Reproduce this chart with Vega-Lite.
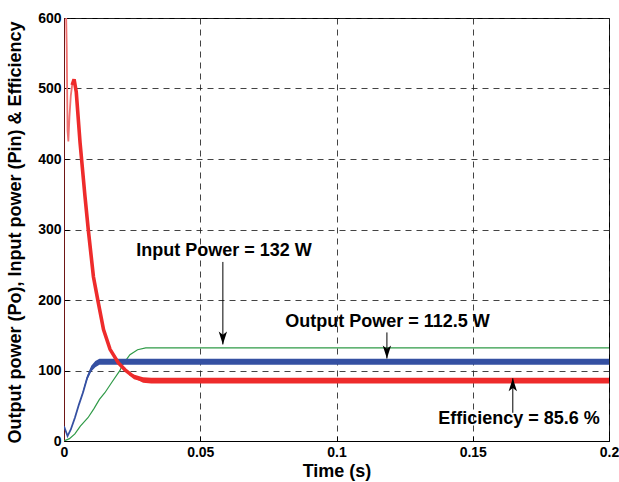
{
  "$schema": "https://vega.github.io/schema/vega-lite/v6.json",
  "autosize": "none",
  "width": 545,
  "height": 423,
  "padding": {"left": 64, "top": 18, "right": 10, "bottom": 41},
  "background": "white",
  "config": {
    "view": {"stroke": "black", "strokeWidth": 1},
    "font": "Liberation Sans",
    "axis": {
      "labelFont": "Liberation Sans",
      "labelFontWeight": "bold",
      "labelFontSize": 14,
      "labelColor": "black",
      "titleFont": "Liberation Sans",
      "titleFontWeight": "bold",
      "titleFontSize": 18,
      "titleColor": "black",
      "grid": true,
      "gridColor": "#222222",
      "gridDash": [6, 5],
      "gridWidth": 1,
      "gridOpacity": 0.85,
      "domainColor": "black",
      "tickColor": "black",
      "tickSize": -5
    }
  },
  "datasets": {
    "curves": [
      {"series": "spike", "t": 0.0, "v": 650},
      {"series": "spike", "t": 0.0006, "v": 640},
      {"series": "spike", "t": 0.0010, "v": 560},
      {"series": "spike", "t": 0.0013, "v": 440},
      {"series": "spike", "t": 0.0016, "v": 425},
      {"series": "spike", "t": 0.0020, "v": 460},
      {"series": "spike", "t": 0.0025, "v": 490},
      {"series": "spike", "t": 0.0030, "v": 505},
      {"series": "spike", "t": 0.0037, "v": 513},

      {"series": "efficiency", "t": 0.0030, "v": 505},
      {"series": "efficiency", "t": 0.0037, "v": 513},
      {"series": "efficiency", "t": 0.0045, "v": 495},
      {"series": "efficiency", "t": 0.0059, "v": 423},
      {"series": "efficiency", "t": 0.0077, "v": 347},
      {"series": "efficiency", "t": 0.0089, "v": 300},
      {"series": "efficiency", "t": 0.0108, "v": 233},
      {"series": "efficiency", "t": 0.0126, "v": 196},
      {"series": "efficiency", "t": 0.0145, "v": 158},
      {"series": "efficiency", "t": 0.0169, "v": 130},
      {"series": "efficiency", "t": 0.0199, "v": 111},
      {"series": "efficiency", "t": 0.0224, "v": 101},
      {"series": "efficiency", "t": 0.0260, "v": 90},
      {"series": "efficiency", "t": 0.0290, "v": 86.5},
      {"series": "efficiency", "t": 0.0320, "v": 85.6},
      {"series": "efficiency", "t": 0.2000, "v": 85.6},

      {"series": "input", "t": 0.0, "v": 0},
      {"series": "input", "t": 0.002, "v": 3.3},
      {"series": "input", "t": 0.004, "v": 10},
      {"series": "input", "t": 0.006, "v": 21},
      {"series": "input", "t": 0.0088, "v": 33},
      {"series": "input", "t": 0.011, "v": 46},
      {"series": "input", "t": 0.013, "v": 59},
      {"series": "input", "t": 0.015, "v": 68.5},
      {"series": "input", "t": 0.0175, "v": 83},
      {"series": "input", "t": 0.0206, "v": 100.5},
      {"series": "input", "t": 0.0213, "v": 107},
      {"series": "input", "t": 0.0242, "v": 122.5},
      {"series": "input", "t": 0.027, "v": 129.5},
      {"series": "input", "t": 0.030, "v": 132},
      {"series": "input", "t": 0.200, "v": 132},

      {"series": "output", "t": 0.0, "v": 21},
      {"series": "output", "t": 0.0013, "v": 7},
      {"series": "output", "t": 0.0025, "v": 16.4},
      {"series": "output", "t": 0.004, "v": 33},
      {"series": "output", "t": 0.0055, "v": 52},
      {"series": "output", "t": 0.007, "v": 69},
      {"series": "output", "t": 0.0085, "v": 89.5},
      {"series": "output", "t": 0.010, "v": 102.6},
      {"series": "output", "t": 0.0115, "v": 109},
      {"series": "output", "t": 0.013, "v": 112.5},
      {"series": "output", "t": 0.200, "v": 112.5}
    ],
    "ripple": [
      {"series": "output", "t": 0.006, "lo": 57, "hi": 58},
      {"series": "output", "t": 0.0085, "lo": 86.5, "hi": 92.5},
      {"series": "output", "t": 0.010, "lo": 98.6, "hi": 106.6},
      {"series": "output", "t": 0.0115, "lo": 104.7, "hi": 113.3},
      {"series": "output", "t": 0.013, "lo": 108.2, "hi": 116.8},
      {"series": "output", "t": 0.200, "lo": 108.2, "hi": 116.8},
      {"series": "efficiency", "t": 0.024, "lo": 93, "hi": 96},
      {"series": "efficiency", "t": 0.029, "lo": 82.5, "hi": 90.5},
      {"series": "efficiency", "t": 0.032, "lo": 81.6, "hi": 89.6},
      {"series": "efficiency", "t": 0.200, "lo": 81.6, "hi": 89.6}
    ],
    "arrows": [
      {"label": "Input Power = 132 W", "t": 0.0583, "from": 254, "tip": 137, "dir": "down"},
      {"label": "Output Power = 112.5 W", "t": 0.1185, "from": 154, "tip": 117, "dir": "down"},
      {"label": "Efficiency = 85.6 %", "t": 0.1647, "from": 40, "tip": 89, "dir": "up"}
    ],
    "notes": [
      {"label": "Input Power = 132 W", "t": 0.0587, "v": 270},
      {"label": "Output Power = 112.5 W", "t": 0.1187, "v": 169.5},
      {"label": "Efficiency = 85.6 %", "t": 0.1670, "v": 30.5}
    ]
  },
  "layer": [
    {
      "data": {"name": "curves"},
      "transform": [{"filter": "datum.series === 'input'"}],
      "mark": {"type": "line", "color": "#2f9a47", "strokeWidth": 1.2, "clip": true},
      "encoding": {
        "x": {
          "field": "t", "type": "quantitative",
          "scale": {"domain": [0, 0.2], "nice": false},
          "axis": {"values": [0, 0.05, 0.1, 0.15, 0.2], "format": "~g", "title": "Time (s)", "labelPadding": 9, "titlePadding": 3, "labelFlush": false}
        },
        "y": {
          "field": "v", "type": "quantitative",
          "scale": {"domain": [0, 600], "nice": false},
          "axis": {"values": [0, 100, 200, 300, 400, 500, 600], "title": "Output power (Po), Input power (Pin) & Efficiency", "labelPadding": 8, "domainColor": "#6e1616", "titleX": -49, "titleY": 214, "titleAngle": -90, "titleAlign": "center", "titleBaseline": "middle"}
        },
        "order": {"field": "t"}
      }
    },
    {
      "data": {"name": "ripple"},
      "transform": [{"filter": "datum.series === 'output'"}],
      "mark": {"type": "area", "color": "#3550a2", "opacity": 1, "clip": true},
      "encoding": {
        "x": {"field": "t", "type": "quantitative"},
        "y": {"field": "lo", "type": "quantitative"},
        "y2": {"field": "hi"}
      }
    },
    {
      "data": {"name": "curves"},
      "transform": [{"filter": "datum.series === 'output'"}],
      "mark": {"type": "line", "color": "#3550a2", "strokeWidth": 1.8, "clip": true},
      "encoding": {
        "x": {"field": "t", "type": "quantitative"},
        "y": {"field": "v", "type": "quantitative"},
        "order": {"field": "t"}
      }
    },
    {
      "data": {"name": "curves"},
      "transform": [{"filter": "datum.series === 'spike'"}],
      "mark": {"type": "line", "color": "#f07070", "strokeWidth": 1.8, "clip": true},
      "encoding": {
        "x": {"field": "t", "type": "quantitative"},
        "y": {"field": "v", "type": "quantitative"},
        "order": {"field": "t"}
      }
    },
    {
      "data": {"name": "ripple"},
      "transform": [{"filter": "datum.series === 'efficiency'"}],
      "mark": {"type": "area", "color": "#ee2b2b", "clip": true},
      "encoding": {
        "x": {"field": "t", "type": "quantitative"},
        "y": {"field": "lo", "type": "quantitative"},
        "y2": {"field": "hi"}
      }
    },
    {
      "data": {"name": "curves"},
      "transform": [{"filter": "datum.series === 'efficiency'"}],
      "mark": {"type": "line", "color": "#ee2b2b", "strokeWidth": 3.6, "clip": true},
      "encoding": {
        "x": {"field": "t", "type": "quantitative"},
        "y": {"field": "v", "type": "quantitative"},
        "order": {"field": "t"}
      }
    },
    {
      "data": {"name": "arrows"},
      "mark": {"type": "rule", "color": "black", "strokeWidth": 1},
      "encoding": {
        "x": {"field": "t", "type": "quantitative"},
        "y": {"field": "from", "type": "quantitative"},
        "y2": {"field": "tip"}
      }
    },
    {
      "data": {"name": "arrows"},
      "mark": {"type": "point", "filled": true, "color": "black", "opacity": 1, "strokeWidth": 0},
      "encoding": {
        "x": {"field": "t", "type": "quantitative"},
        "y": {"field": "tip", "type": "quantitative"},
        "shape": {
          "field": "dir", "type": "nominal",
          "scale": {"domain": ["down", "up"], "range": ["M0,0L-0.32,-1L0,-0.75L0.32,-1Z", "M0,0L-0.32,1L0,0.75L0.32,1Z"]},
          "legend": null
        },
        "size": {"value": 680}
      }
    },
    {
      "data": {"name": "notes"},
      "mark": {"type": "text", "font": "Liberation Sans", "fontWeight": "bold", "fontSize": 18, "color": "black", "align": "center", "baseline": "middle"},
      "encoding": {
        "x": {"field": "t", "type": "quantitative"},
        "y": {"field": "v", "type": "quantitative"},
        "text": {"field": "label"}
      }
    }
  ]
}
